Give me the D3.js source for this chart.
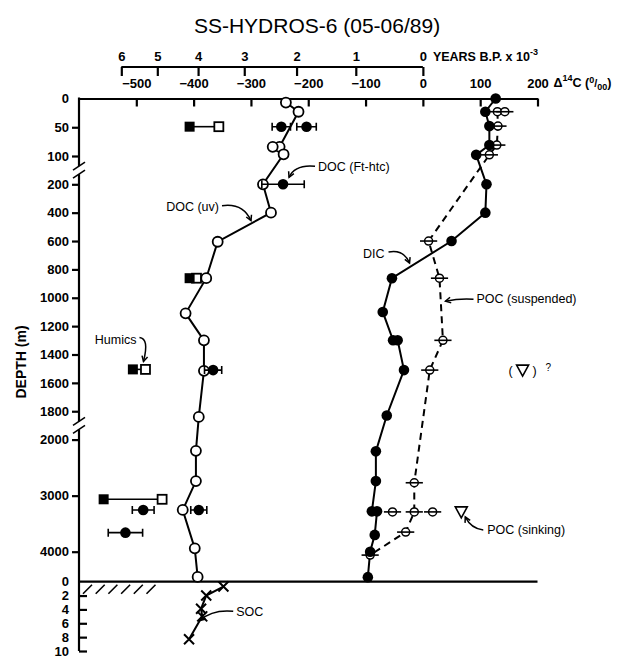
<!DOCTYPE html>
<html>
<head>
<meta charset="utf-8">
<title>SS-HYDROS-6 (05-06/89)</title>
<script src="https://cdnjs.cloudflare.com/ajax/libs/d3/7.8.5/d3.min.js"></script>
<style>
  body { margin: 0; background: #fff; }
  svg text { font-family: "Liberation Sans", Arial, Helvetica, sans-serif; fill: #000; }
  .axis text { font-size: 13px; font-weight: bold; }
  .axis line, .axis path { stroke: #000; stroke-width: 2.2; }
  .title { font-size: 21px; }
  .note { font-size: 12.5px; }
  .prof { fill: none; stroke: #000; stroke-width: 2; }
  .dash { stroke-dasharray: 7,5; }
  .bar { stroke: #000; stroke-width: 1.6; }
</style>
</head>
<body>
<svg width="634" height="656"></svg>
<script>
// axis ticks
var d14cTicks = [-500, -400, -300, -200, -100, 0, 100, 200];
var ageTicks = [6, 5, 4, 3, 2, 1, 0];          // years B.P. x 10^-3
var depthTicks = [0, 50, 100, 200, 400, 600, 800, 1000, 1200, 1400, 1600, 1800, 2000, 3000, 4000];
var sedTicks = [2, 4, 6, 8, 10];               // cm below sea floor
var seafloor = 4530;

// DOC (uv) - open circles
var docUvDepth = [7, 23, 84, 97, 200, 400, 605, 862, 1110, 1300, 1515, 1840, 2200, 2740, 3255, 3940, 4445];
var docUvD14C = [-239, -217, -250, -243, -279, -265, -358, -378, -414, -382, -382, -391, -396, -396, -419, -398, -393];
var docUvExtraDepth = [84];
var docUvExtraD14C = [-262];

// DOC (Ft-htc) - filled circles with error bars
var docHtcDepth = [49, 49, 200, 1510, 3255, 3255, 3660];
var docHtcD14C = [-247, -203, -244, -366, -488, -391, -519];
var docHtcErr = [16, 17, 37, 15, 19, 14, 30];

// humics - filled / open squares
var humDepth = [49, 862, 1505, 3065];
var humFilled = [-407, -407, -506, -557];
var humOpen = [-356, -395, -484, -455];

// DIC - filled circles
var dicDepth = [0, 23, 48, 81, 98, 200, 400, 600, 862, 1100, 1300, 1300, 1510, 1830, 2210, 2740, 3280, 3280, 3700, 4000, 4450];
var dicD14C = [127, 109, 116, 116, 93, 111, 109, 50, -54, -70, -52, -44, -33, -63, -82, -82, -89, -80, -84, -92, -96];

// POC (suspended) - open circles, dashed
var pocDepth = [23, 48, 81, 98, 600, 862, 1300, 1510, 2770, 3290, 3650, 4060];
var pocD14C = [130, 131, 129, 116, 10, 29, 35, 12, -15, -15, -30, -92];
var pocExtraDepth = [23, 3290, 3290];
var pocExtraD14C = [143, -53, 17];
var pocErr = 15;

// POC (sinking) - triangles
var sinkDepth = [3290];
var sinkD14C = [67];
var sinkQDepth = [1510];
var sinkQD14C = [174];

// SOC - sediment, cm
var socCm = [0.7, 2, 3.9, 5, 8.3];
var socD14C = [-348, -378, -387, -385, -408];

var svg = d3.select("svg");

var x = d3.scaleLinear().domain([-600, 200]).range([79, 537.5]);
var y = d3.scaleLinear()
    .domain([0, 100, 200, 2000, 4000, seafloor])
    .range([98.5, 156, 184.3, 439.6, 551.7, 581.7]);
var ys = d3.scaleLinear().domain([0, 10]).range([581.7, 651]);

function ageToD14C(k) { return (Math.exp(-k * 1000 / 8033) - 1) * 1000; }
function pairs(a, b) { return a.map(function(d, i) { return [b[i], d]; }); }

svg.append("text").attr("class", "title")
    .attr("x", 317).attr("y", 33).attr("text-anchor", "middle")
    .text("SS-HYDROS-6  (05-06/89)");

// age axis
var ga = svg.append("g").attr("class", "axis").attr("transform", "translate(0,67)")
    .call(d3.axisBottom(x)
      .tickValues(ageTicks.map(ageToD14C))
      .tickFormat(function(d, i) { return ageTicks[i]; })
      .tickSize(9));
ga.select(".domain").remove();
ga.append("line").attr("x1", x(ageToD14C(6))).attr("x2", x(0));
ga.selectAll(".tick text").attr("y", -6).attr("dy", 0);
var yt = svg.append("text").attr("class", "axis-label")
    .attr("x", x(0) + 10).attr("y", 61)
    .style("font-size", "12.5px").style("font-weight", "bold")
    .text("YEARS B.P. x 10");
yt.append("tspan").attr("dy", -6).style("font-size", "9px").text("-3");

// delta 14C axis
var gx = svg.append("g").attr("class", "axis").attr("transform", "translate(0," + y(0) + ")")
    .call(d3.axisBottom(x).tickValues(d14cTicks).tickSize(8).tickSizeOuter(0).tickFormat(d3.format("d")));
gx.selectAll(".tick text").attr("y", -11).attr("dy", 0);
var dt = svg.append("text")
    .attr("x", x(200) + 16).attr("y", 87)
    .style("font-size", "12.5px").style("font-weight", "bold")
    .text("\u0394");
dt.append("tspan").attr("dy", -6).style("font-size", "9px").text("14");
dt.append("tspan").attr("dy", 6).text("C (");
dt.append("tspan").attr("dy", -4).style("font-size", "9px").text("0");
dt.append("tspan").attr("dy", 4).style("font-size", "11px").text("/");
dt.append("tspan").attr("dy", 3).style("font-size", "9px").text("00");
dt.append("tspan").attr("dy", -3).text(")");

// depth axis with scale breaks
var ax = x(-600);
var gy = svg.append("g").attr("class", "axis").attr("transform", "translate(" + ax + ",0)")
    .call(d3.axisLeft(y).tickValues(depthTicks).tickSize(7).tickPadding(3).tickFormat(d3.format("d")));
gy.select(".domain").remove();
gy.selectAll(".tick").filter(function(d) { return d === 0; }).select("line").remove();

var bA = (y(100) + y(200)) / 2, bB = (y(1800) + y(2000)) / 2;
var segs = [[y(0) - 1, bA - 4], [bA + 4, bB - 4], [bB + 4, ys(10)]];
svg.selectAll(".yseg").data(segs).enter().append("line")
    .attr("x1", ax).attr("x2", ax)
    .attr("y1", function(d) { return d[0]; }).attr("y2", function(d) { return d[1]; })
    .attr("stroke", "#000").attr("stroke-width", 2.2);
[bA, bB].forEach(function(b) {
  [b - 4, b + 4].forEach(function(c) {
    svg.append("line").attr("x1", ax - 6).attr("y1", c + 4).attr("x2", ax + 6).attr("y2", c - 4)
      .attr("stroke", "#000").attr("stroke-width", 1.6);
  });
});

// sea floor and sediment axis
svg.append("line").attr("x1", ax).attr("x2", x(200)).attr("y1", ys(0)).attr("y2", ys(0))
    .attr("stroke", "#000").attr("stroke-width", 2.2);
svg.selectAll(".hatch").data(d3.range(6)).enter().append("line")
    .attr("x1", function(i) { return ax + 4 + i * 12.7; }).attr("y1", ys(0) + 12)
    .attr("x2", function(i) { return ax + 13 + i * 12.7; }).attr("y2", ys(0) + 3)
    .attr("stroke", "#000").attr("stroke-width", 1.6);
var gs = svg.append("g").attr("class", "axis").attr("transform", "translate(" + ax + ",0)")
    .call(d3.axisLeft(ys).tickValues(sedTicks).tickSize(-8).tickPadding(10));
gs.select(".domain").remove();
svg.append("text").attr("class", "axis-label")
    .attr("x", ax - 10).attr("y", ys(0)).attr("dy", "0.32em").attr("text-anchor", "end")
    .style("font-size", "13px").style("font-weight", "bold").text("0");

svg.append("text")
    .attr("transform", "translate(26,362) rotate(-90)")
    .attr("text-anchor", "middle")
    .style("font-size", "14px").style("font-weight", "bold")
    .text("DEPTH (m)");

// profile lines
var line = d3.line().x(function(d) { return x(d[0]); }).y(function(d) { return y(d[1]); });
svg.append("path").attr("class", "prof").attr("d", line(pairs(docUvDepth, docUvD14C)));
svg.append("path").attr("class", "prof").attr("d", line(pairs(dicDepth, dicD14C)));
svg.append("path").attr("class", "prof dash").attr("d", line(pairs(pocDepth, pocD14C)));
svg.append("path").attr("class", "prof")
    .attr("d", d3.line().x(function(d) { return x(d[0]); }).y(function(d) { return ys(d[1]); })(pairs(socCm, socD14C)));

// humics
var hum = svg.selectAll(".hum").data(humDepth).enter().append("g");
hum.append("line").attr("class", "bar").attr("stroke-width", 2)
    .attr("x1", function(d, i) { return x(humFilled[i]); })
    .attr("x2", function(d, i) { return x(humOpen[i]); })
    .attr("y1", function(d) { return y(d); }).attr("y2", function(d) { return y(d); });
hum.append("rect").attr("width", 9).attr("height", 9)
    .attr("x", function(d, i) { return x(humOpen[i]) - 4.5; })
    .attr("y", function(d) { return y(d) - 4.5; })
    .attr("fill", "#fff").attr("stroke", "#000").attr("stroke-width", 1.8);
hum.append("rect").attr("width", 10).attr("height", 10)
    .attr("x", function(d, i) { return x(humFilled[i]) - 5; })
    .attr("y", function(d) { return y(d) - 5; })
    .attr("fill", "#000");

// POC suspended
function pocMark(depths, vals) {
  var g = svg.append("g").selectAll("g").data(depths).enter().append("g");
  g.append("circle").attr("r", 4)
    .attr("cx", function(d, i) { return x(vals[i]); }).attr("cy", function(d) { return y(d); })
    .attr("fill", "#fff").attr("stroke", "#000").attr("stroke-width", 1.5);
  g.append("line").attr("class", "bar")
    .attr("x1", function(d, i) { return x(vals[i] - pocErr); })
    .attr("x2", function(d, i) { return x(vals[i] + pocErr); })
    .attr("y1", function(d) { return y(d); }).attr("y2", function(d) { return y(d); });
}
pocMark(pocDepth, pocD14C);
pocMark(pocExtraDepth, pocExtraD14C);

// DOC uv open circles
svg.selectAll(".uv").data(pairs(docUvDepth, docUvD14C).concat(pairs(docUvExtraDepth, docUvExtraD14C)))
  .enter().append("circle").attr("r", 5)
    .attr("cx", function(d) { return x(d[0]); }).attr("cy", function(d) { return y(d[1]); })
    .attr("fill", "#fff").attr("stroke", "#000").attr("stroke-width", 1.8);

// DIC filled circles
svg.selectAll(".dic").data(pairs(dicDepth, dicD14C))
  .enter().append("circle").attr("r", 5.3)
    .attr("cx", function(d) { return x(d[0]); }).attr("cy", function(d) { return y(d[1]); })
    .attr("fill", "#000");

// DOC Ft-htc filled circles with error bars
var htc = svg.selectAll(".htc").data(docHtcDepth).enter().append("g");
htc.append("path").attr("class", "bar").attr("fill", "none")
    .attr("d", function(d, i) {
      var a = x(docHtcD14C[i] - docHtcErr[i]), b = x(docHtcD14C[i] + docHtcErr[i]), c = y(d);
      return "M" + a + "," + (c - 4) + "V" + (c + 4) + "M" + a + "," + c + "H" + b + "M" + b + "," + (c - 4) + "V" + (c + 4);
    });
htc.append("circle").attr("r", 5.3)
    .attr("cx", function(d, i) { return x(docHtcD14C[i]); }).attr("cy", function(d) { return y(d); })
    .attr("fill", "#000");

// POC sinking triangles
function tri(cx, cy) {
  return "M" + (cx - 6) + "," + (cy - 5) + "H" + (cx + 6) + "L" + cx + "," + (cy + 6) + "Z";
}
svg.selectAll(".sink").data(sinkDepth).enter().append("path")
    .attr("d", function(d, i) { return tri(x(sinkD14C[i]), y(d)); })
    .attr("fill", "#fff").attr("stroke", "#000").attr("stroke-width", 1.6);
svg.selectAll(".sinkq").data(sinkQDepth).enter().append("path")
    .attr("d", function(d, i) { return tri(x(sinkQD14C[i]), y(d)); })
    .attr("fill", "#fff").attr("stroke", "#000").attr("stroke-width", 1.6);
sinkQDepth.forEach(function(d, i) {
  var cx = x(sinkQD14C[i]), cy = y(d);
  svg.append("text").attr("class", "note").attr("x", cx - 10).attr("y", cy + 5).attr("text-anchor", "end").text("(");
  svg.append("text").attr("class", "note").attr("x", cx + 10).attr("y", cy + 5).text(")");
  svg.append("text").attr("class", "note").attr("x", cx + 23).attr("y", cy + 1).style("font-size", "10px").text("?");
});

// SOC crosses
svg.selectAll(".soc").data(pairs(socCm, socD14C)).enter().append("path")
    .attr("d", function(d) {
      var cx = x(d[0]), cy = ys(d[1]);
      return "M" + (cx - 5) + "," + (cy - 5) + "L" + (cx + 5) + "," + (cy + 5) +
             "M" + (cx - 5) + "," + (cy + 5) + "L" + (cx + 5) + "," + (cy - 5);
    })
    .attr("stroke", "#000").attr("stroke-width", 2);

// labels with arrows: anchor point + pixel offsets
var notes = [
  {t: "DOC (Ft-htc)", p: [x(-244), y(200)], lab: [35, -13], anc: "start", s: [32, -18], c: [12, -20], e: [6, -7]},
  {t: "DOC (uv)", p: [x(-265), y(400)], lab: [-52, -2], anc: "end", s: [-49, -7], c: [-28, -10], e: [-20, 8]},
  {t: "DIC", p: [x(50), y(600)], lab: [-67, 17], anc: "end", s: [-63, 11], c: [-48, 8], e: [-42, 22]},
  {t: "POC (suspended)", p: [x(29), y(862)], lab: [37, 25], anc: "start", s: [34, 21], c: [20, 20], e: [6, 23]},
  {t: "Humics", p: [x(-484), y(1505)], lab: [-9, -25], anc: "end", s: [-6, -32], c: [4, -31], e: [-2, -8]},
  {t: "POC (sinking)", p: [x(67), y(3290)], lab: [26, 22], anc: "start", s: [22, 18], c: [10, 17], e: [4, 5]},
  {t: "SOC", p: [x(-385), ys(5)], lab: [34, 0], anc: "start", s: [31, -5], c: [10, -7], e: [-2, 4]}
];
notes.forEach(function(n) {
  var px = n.p[0], py = n.p[1];
  svg.append("text").attr("class", "note")
    .attr("x", px + n.lab[0]).attr("y", py + n.lab[1]).attr("text-anchor", n.anc).text(n.t);
  var sx = px + n.s[0], sy = py + n.s[1], cx = px + n.c[0], cy = py + n.c[1], ex = px + n.e[0], ey = py + n.e[1];
  svg.append("path").attr("fill", "none").attr("stroke", "#000").attr("stroke-width", 1.5)
    .attr("d", "M" + sx + "," + sy + "Q" + cx + "," + cy + " " + ex + "," + ey);
  var ang = Math.atan2(ey - cy, ex - cx), L = 6;
  svg.append("path").attr("fill", "none").attr("stroke", "#000").attr("stroke-width", 1.5)
    .attr("d", "M" + (ex - L * Math.cos(ang - 0.5)) + "," + (ey - L * Math.sin(ang - 0.5)) +
      "L" + ex + "," + ey + "L" + (ex - L * Math.cos(ang + 0.5)) + "," + (ey - L * Math.sin(ang + 0.5)));
});
</script>
</body>
</html>
